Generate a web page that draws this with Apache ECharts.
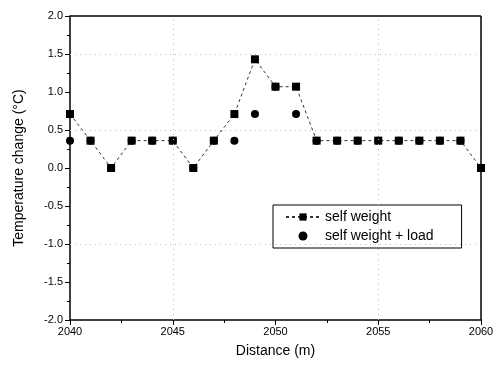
<!DOCTYPE html>
<html><head><meta charset="utf-8">
<script src="https://cdn.jsdelivr.net/npm/echarts@6/dist/echarts.min.js"></script>
<style>html,body{margin:0;padding:0;background:#fff}#c{width:497px;height:367px}</style>
</head><body><div id="c"></div>
<script>
const distance = [2040,2041,2042,2043,2044,2045,2046,2047,2048,2049,2050,2051,2052,2053,2054,2055,2056,2057,2058,2059,2060];
const selfWeight = [0.71,0.36,0.0,0.36,0.36,0.36,0.0,0.36,0.71,1.43,1.07,1.07,0.36,0.36,0.36,0.36,0.36,0.36,0.36,0.36,0.0];
const selfWeightLoad = [0.36,0.36,0.0,0.36,0.36,0.36,0.0,0.36,0.36,0.71,1.07,0.71,0.36,0.36,0.36,0.36,0.36,0.36,0.36,0.36,0.0];
const gridY = [1.5, 0.5, -1.0];
const gridX = [2045, 2055];
const frameY = [2.0];
const frameX = [2060];

const font = 'Liberation Sans, Arial, sans-serif';
const chart = echarts.init(document.getElementById('c'));
const pair = (xs, ys) => xs.map((x, i) => [x, ys[i]]);
const markStyle = {color: '#bbb', type: [1, 4], width: 1};
chart.setOption({
  animation: false,
  grid: {left: 70, right: 16, top: 16, bottom: 47},
  legend: {
    left: 273, top: 205, width: 190, orient: 'vertical',
    padding: [5, 28, 5, 12], itemGap: 5,
    borderColor: '#000', borderWidth: 1, backgroundColor: '#fff',
    itemWidth: 34, itemHeight: 9,
    textStyle: {fontFamily: font, fontSize: 14, color: '#000'},
    data: ['self weight', 'self weight + load']
  },
  xAxis: {
    type: 'value', min: 2040, max: 2060, interval: 5,
    name: 'Distance (m)', nameLocation: 'middle', nameGap: 24,
    nameTextStyle: {fontFamily: font, fontSize: 14, color: '#000'},
    axisLine: {show: true, onZero: false, lineStyle: {color: '#000', width: 1.5}},
    axisTick: {inside: false, length: 5, lineStyle: {color: '#000'}},
    minorTick: {show: true, splitNumber: 2, length: 3, lineStyle: {color: '#000'}},
    axisLabel: {fontFamily: font, fontSize: 11, color: '#000', margin: 6, formatter: v => String(v)},
    splitLine: {show: false}
  },
  yAxis: {
    type: 'value', min: -2, max: 2, interval: 0.5,
    name: 'Temperature change (°C)', nameLocation: 'middle', nameGap: 44,
    nameTextStyle: {fontFamily: font, fontSize: 14, color: '#000'},
    axisLine: {show: true, onZero: false, lineStyle: {color: '#000', width: 1.5}},
    axisTick: {inside: false, length: 5, lineStyle: {color: '#000'}},
    minorTick: {show: true, splitNumber: 2, length: 3, lineStyle: {color: '#000'}},
    axisLabel: {fontFamily: font, fontSize: 11, color: '#000', margin: 7, formatter: v => v.toFixed(1)},
    splitLine: {show: false}
  },
  series: [
    {
      name: 'self weight', type: 'line', data: pair(distance, selfWeight),
      symbol: 'rect', symbolSize: 8, z: 3, clip: false,
      itemStyle: {color: '#000', opacity: 1},
      lineStyle: {color: '#333', width: 1, type: [3, 3]},
      markLine: {
        silent: true, symbol: 'none', label: {show: false}, lineStyle: markStyle,
        data: gridY.map(v => ({yAxis: v})).concat(gridX.map(v => ({xAxis: v})))
      }
    },
    {
      name: 'self weight + load', type: 'scatter', data: pair(distance, selfWeightLoad),
      symbol: 'circle', symbolSize: 8, z: 4, clip: false,
      itemStyle: {color: '#000', opacity: 1},
      markLine: {
        silent: true, symbol: 'none', label: {show: false},
        lineStyle: {color: '#000', type: 'solid', width: 1.5},
        data: frameY.map(v => ({yAxis: v})).concat(frameX.map(v => ({xAxis: v})))
      }
    }
  ]
});
</script></body></html>
